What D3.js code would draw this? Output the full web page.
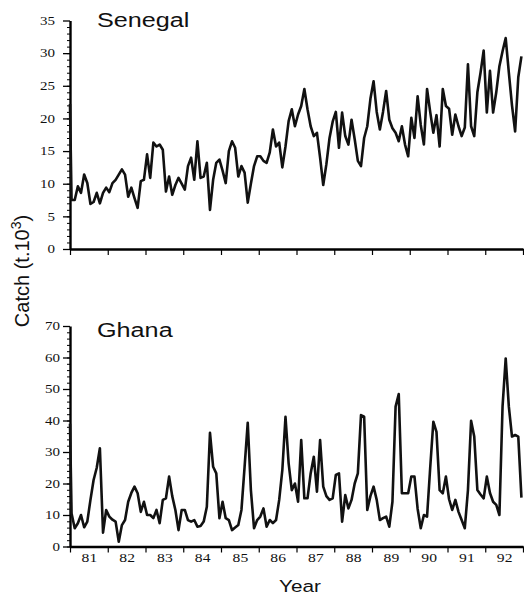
<!DOCTYPE html>
<html>
<head>
<meta charset="utf-8">
<script src="https://cdn.jsdelivr.net/npm/d3@7"></script>
<style>
  body { margin: 0; background: #fff; }
  svg { display: block; }
  .tick text { font-family: 'Liberation Serif', 'Times New Roman', serif; font-size: 12px; fill: #111; }
  .lab { font-family: 'Liberation Sans', Arial, sans-serif; fill: #111; }
</style>
</head>
<body>
<svg></svg>
<script>
// monthly catch, Jan 1981 .. Dec 1992 (thousand tonnes)
const years = d3.range(1981, 1993)
const yearLabels = ['81', '82', '83', '84', '85', '86', '87', '88', '89', '90', '91', '92']

const senegalStart = 22.2
const senegal = [
  7.5, 7.5, 9.6, 8.6, 11.4, 10.1, 6.9, 7.2, 8.6, 7.0, 8.6, 9.4,
  8.7, 10.1, 10.6, 11.4, 12.2, 11.4, 8.0, 9.4, 7.8, 6.3, 10.4, 10.6,
  14.5, 10.9, 16.3, 15.7, 16.0, 15.2, 8.8, 11.1, 8.3, 9.8, 10.9, 10.0,
  9.1, 12.7, 14.0, 10.6, 16.5, 10.9, 11.1, 13.2, 6.0, 10.6, 13.2, 13.7,
  12.0, 10.1, 15.0, 16.5, 15.5, 11.1, 12.7, 11.7, 7.1, 10.0, 12.7, 14.2,
  14.2, 13.5, 13.2, 14.8, 18.3, 15.7, 16.3, 12.5, 15.7, 19.6, 21.4, 18.8,
  20.6, 21.9, 24.5, 21.4, 18.8, 17.3, 17.8, 14.0, 9.8, 13.0, 17.0, 19.5,
  21.0, 15.5, 20.9, 17.3, 16.0, 19.8, 16.8, 13.5, 12.7, 17.0, 18.8, 23.0,
  25.7, 21.0, 18.3, 21.0, 24.2, 19.8, 18.5, 17.8, 16.5, 18.8, 16.0, 14.2,
  20.1, 17.0, 23.4, 19.0, 16.0, 24.5, 21.0, 17.8, 20.5, 15.7, 24.5, 21.9,
  21.5, 17.5, 20.6, 18.8, 17.3, 18.6, 28.3, 18.8, 17.3, 24.0, 27.0, 30.4,
  20.9, 27.3, 20.9, 24.0, 28.0, 30.3, 32.3, 27.0, 22.0, 18.0, 26.3, 29.5
]

const ghanaStart = 39
const ghana = [
  10.5, 5.8, 7.4, 10.0, 6.1, 7.9, 14.8, 21.1, 25.0, 31.2, 4.4, 11.6,
  9.5, 8.5, 7.9, 1.5, 6.8, 8.4, 14.2, 17.0, 19.0, 16.9, 11.0, 14.2,
  10.0, 10.0, 9.0, 11.6, 7.4, 14.8, 15.3, 22.2, 16.0, 11.6, 5.2, 11.6,
  11.6, 8.4, 7.9, 8.4, 6.3, 6.5, 7.9, 12.6, 36.1, 25.3, 23.2, 9.0,
  14.2, 9.0, 8.4, 5.2, 6.0, 6.8, 11.6, 25.3, 39.3, 17.9, 5.8, 8.4,
  9.5, 12.1, 6.3, 8.4, 7.4, 8.4, 14.8, 24.3, 41.2, 26.4, 17.9, 20.0,
  14.2, 33.8, 15.3, 15.3, 23.2, 28.5, 17.4, 33.8, 19.0, 16.0, 14.8, 15.3,
  22.7, 23.2, 7.9, 16.3, 12.1, 14.8, 20.0, 23.2, 41.7, 41.2, 11.6, 16.0,
  19.0, 14.8, 8.4, 9.0, 9.5, 6.3, 14.2, 44.4, 48.4, 16.9, 16.9, 16.9,
  22.2, 22.2, 12.0, 5.8, 10.0, 9.5, 25.0, 39.6, 36.4, 17.9, 16.9, 22.2,
  15.0, 11.6, 14.8, 11.0, 8.4, 5.8, 17.9, 39.9, 34.9, 17.9, 16.5, 15.3,
  22.2, 17.0, 14.2, 13.2, 10.0, 44.4, 59.7, 44.4, 34.9, 35.4, 34.9, 15.5
]

const senegalTicks = [0, 5, 10, 15, 20, 25, 30, 35]
const ghanaTicks = [0, 10, 20, 30, 40, 50, 60, 70]

const width = 524
const height = 598
const left = 70
const right = 523

const svg = d3.select('svg')
  .attr('width', width)
  .attr('height', height)

const x = d3.scaleLinear()
  .domain([years[0], years[years.length - 1] + 1])
  .range([left, right])

/* turns a series into points, one per month at mid-month */
function toPoints(start, values) {
  let pts = [{ t: years[0], v: start }]
  values.forEach((v, i) => pts.push({ t: years[0] + (i + 0.5) / 12, v: v }))
  return pts
}

function drawPanel(opts) {
  let top = opts.ticks[opts.ticks.length - 1]
  let y = d3.scaleLinear()
    .domain([0, top])
    .range([opts.bottom, opts.top])

  let g = svg.append('g')

  /* minor y ticks */
  g.append('g')
    .attr('transform', `translate(${left},0)`)
    .call(d3.axisLeft(y).tickValues(d3.range(0, top, opts.minor))
      .tickSize(3).tickSizeOuter(0).tickFormat(''))
    .call(a => a.select('.domain').remove())
    .selectAll('line').attr('stroke-width', 1)

  /* major y ticks */
  let yAx = g.append('g')
    .attr('transform', `translate(${left},0)`)
    .call(d3.axisLeft(y).tickValues(opts.ticks).tickSize(7).tickSizeOuter(0))
  yAx.select('.domain').attr('stroke-width', 2.4)
  yAx.selectAll('line').attr('stroke-width', 1.3)
  yAx.selectAll('text')
    .attr('x', null)
    .attr('transform', `translate(${-opts.pad},0) scale(1.25,1)`)

  /* x axis with year boundary ticks */
  let xAx = g.append('g')
    .attr('transform', `translate(0,${opts.bottom})`)
    .call(d3.axisBottom(x).tickValues(d3.range(years[0], years[years.length - 1] + 2))
      .tickSize(6).tickSizeOuter(0).tickFormat(''))
  xAx.select('.domain').attr('stroke-width', 2.6)
  xAx.selectAll('line').attr('stroke-width', 1.2)

  /* year labels centred in each year */
  if (opts.labels) {
    let lab = g.append('g')
      .attr('transform', `translate(0,${opts.bottom})`)
      .call(d3.axisBottom(x).tickValues(years.map(d => d + 0.5))
        .tickSize(0).tickPadding(7).tickFormat((d, i) => yearLabels[i]))
    lab.select('.domain').remove()
    lab.selectAll('text')
      .attr('font-size', 12.5)
      .attr('transform', 'scale(1.3,1)')
  }

  let line = d3.line()
    .x(d => x(d.t))
    .y(d => y(d.v))

  g.append('path')
    .datum(toPoints(opts.start, opts.values))
    .attr('fill', 'none')
    .attr('stroke', '#111')
    .attr('stroke-width', 2.6)
    .attr('stroke-linejoin', 'round')
    .attr('d', line)

  g.append('text')
    .attr('class', 'lab')
    .attr('transform', `translate(97,${opts.titleY}) scale(1.2,1)`)
    .attr('font-size', 21)
    .text(opts.name)
}

drawPanel({ name: 'Senegal', values: senegal, start: senegalStart, ticks: senegalTicks,
  minor: 1, top: 20.5, bottom: 249, pad: 15, titleY: 27, labels: false })

drawPanel({ name: 'Ghana', values: ghana, start: ghanaStart, ticks: ghanaTicks,
  minor: 2, top: 326, bottom: 546.5, pad: 10, titleY: 337, labels: true })

/* axis titles */
svg.append('text')
  .attr('class', 'lab')
  .attr('transform', 'translate(300,592) scale(1.22,1)')
  .attr('text-anchor', 'middle')
  .attr('font-size', 17)
  .text('Year')

let yt = svg.append('text')
  .attr('class', 'lab')
  .attr('transform', 'translate(29,271) rotate(-90)')
  .attr('text-anchor', 'middle')
  .attr('font-size', 20)
yt.append('tspan').text('Catch (t.10')
yt.append('tspan').attr('dy', -8).attr('font-size', 14).text('3')
yt.append('tspan').attr('dy', 8).text(')')
</script>
</body>
</html>
